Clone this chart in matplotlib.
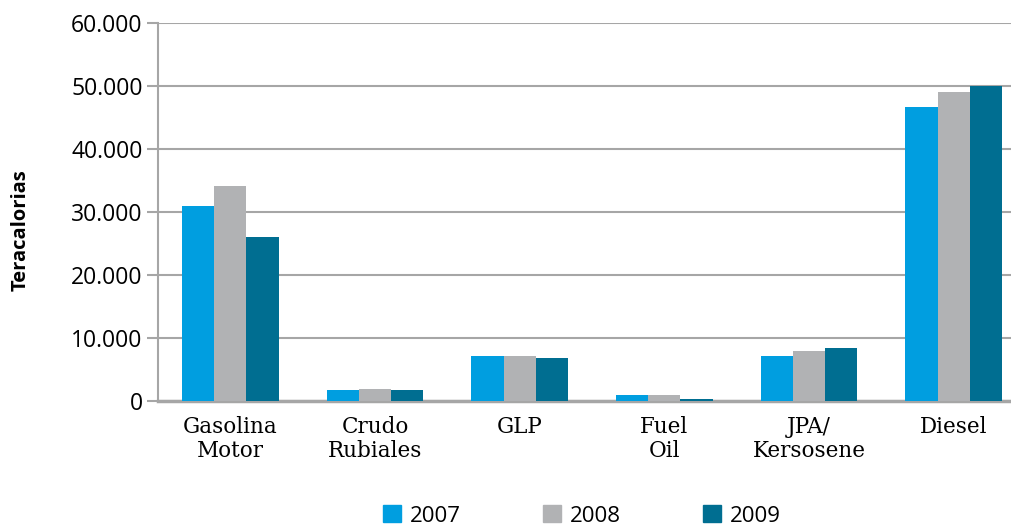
import numpy as np
import matplotlib.pyplot as plt
from matplotlib.patches import Patch

categories = ["Gasolina\nMotor", "Crudo\nRubiales", "GLP", "Fuel\nOil", "JPA/\nKersosene", "Diesel"]
years = ["2007", "2008", "2009"]
v2007 = [31000, 1700, 7100, 1000, 7100, 46600]
v2008 = [34100, 1900, 7100, 900, 7900, 49100]
v2009 = [26000, 1800, 6800, 300, 8400, 50000]
yticks = [0, 10000, 20000, 30000, 40000, 50000, 60000]
ytick_labels = ["0", "10.000", "20.000", "30.000", "40.000", "50.000", "60.000"]

colors = ["#009EE0", "#B1B2B4", "#006E91"]
grid_col = "#A6A6A6"

fig = plt.figure(figsize=(10.12, 5.25), dpi=100)
# axes runs past the right edge of the figure, as in the original
ax = fig.add_axes([158 / 1012, 1 - 401 / 525, 868 / 1012, 378 / 525])

x = np.arange(len(categories))
w = 0.223
for i, (vals, c) in enumerate(zip([v2007, v2008, v2009], colors)):
    ax.bar(x + (i - 1) * w, vals, width=w, color=c, zorder=3)

ax.set_xlim(-0.5, len(categories) - 0.5)
ax.set_ylim(0, 60000)
ax.set_yticks(yticks)
ax.set_yticklabels(ytick_labels, family="Open Sans", fontsize=16.5)
ax.set_xticks(x)
ax.set_xticklabels(categories, family="DejaVu Serif", fontsize=15.5, linespacing=1.1)

ax.yaxis.grid(True, color=grid_col, linewidth=1.5, zorder=0)
for s in ["top", "right"]:
    ax.spines[s].set_visible(False)
ax.spines["left"].set_color(grid_col)
ax.spines["left"].set_linewidth(1.5)
ax.spines["bottom"].set_color(grid_col)
ax.spines["bottom"].set_linewidth(2.5)
ax.tick_params(axis="y", length=8, width=1.5, color=grid_col, pad=3)
ax.tick_params(axis="x", length=0, pad=11)

ax.set_ylabel("Teracalorias", family="Open Sans", fontweight="bold", fontsize=14.5)
ax.yaxis.set_label_coords(-0.147, 0.452)

handles = [Patch(color=c) for c in colors]
fig.legend(handles, years, loc="center", bbox_to_anchor=(582 / 1012, 1 - 516 / 525), ncol=3,
           frameon=False, prop={"family": "Open Sans", "size": 16}, handlelength=0.8,
           handleheight=0.8, columnspacing=3.7, handletextpad=0.4)

fig.savefig("out.png", dpi=100)
